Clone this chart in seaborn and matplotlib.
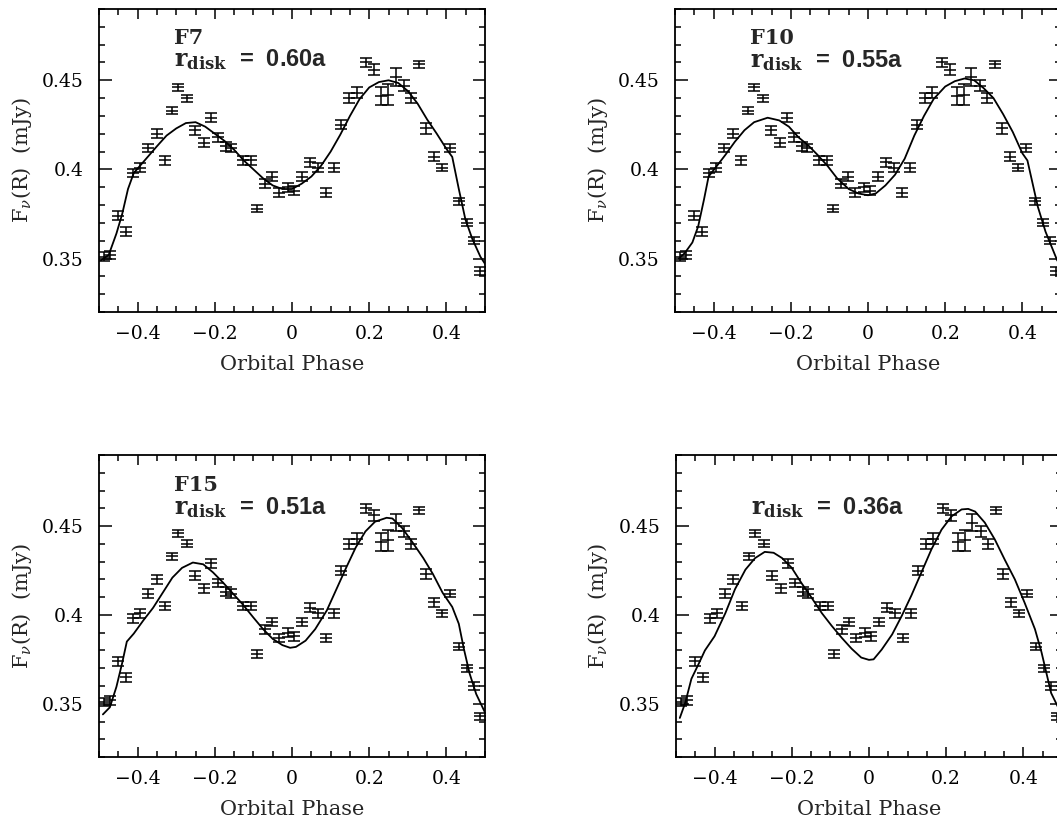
import numpy as np
import pandas as pd
import matplotlib
matplotlib.use("Agg")
import matplotlib.pyplot as plt
from matplotlib.ticker import MultipleLocator
import seaborn as sns

# observed light curve (same data in every panel)
phase = [-0.488, -0.472, -0.450, -0.430, -0.411, -0.394, -0.373, -0.351, -0.329, -0.310,
         -0.295, -0.271, -0.252, -0.228, -0.209, -0.191, -0.172, -0.158, -0.127, -0.107,
         -0.090, -0.071, -0.052, -0.033, -0.011, 0.006, 0.027, 0.047, 0.067, 0.089,
         0.109, 0.128, 0.147, 0.167, 0.191, 0.212, 0.230, 0.248, 0.268, 0.289,
         0.309, 0.329, 0.348, 0.368, 0.389, 0.410, 0.432, 0.454, 0.471, 0.488]
flux = [0.351, 0.352, 0.374, 0.365, 0.398, 0.401, 0.412, 0.420, 0.405, 0.433,
        0.446, 0.440, 0.422, 0.415, 0.429, 0.418, 0.413, 0.412, 0.405, 0.405,
        0.378, 0.392, 0.396, 0.387, 0.390, 0.388, 0.396, 0.404, 0.401, 0.387,
        0.401, 0.425, 0.440, 0.443, 0.460, 0.456, 0.441, 0.442, 0.452, 0.447,
        0.440, 0.459, 0.423, 0.407, 0.401, 0.412, 0.382, 0.370, 0.360, 0.343]
flux_err = [0.0025, 0.0025, 0.0025, 0.0025, 0.0025, 0.0025, 0.0025, 0.0025, 0.0025, 0.002,
            0.002, 0.002, 0.0025, 0.0025, 0.0025, 0.0025, 0.0025, 0.0025, 0.0025, 0.0025,
            0.002, 0.0025, 0.0025, 0.0025, 0.0025, 0.0025, 0.0025, 0.0025, 0.0025, 0.0025,
            0.0025, 0.0025, 0.003, 0.003, 0.0025, 0.003, 0.005, 0.006, 0.005, 0.003,
            0.003, 0.002, 0.003, 0.0025, 0.002, 0.002, 0.002, 0.002, 0.002, 0.002]

# model curves
f7_phase = [-0.495, -0.475, -0.455, -0.44, -0.425, -0.41, -0.39, -0.37, -0.35, -0.325,
            -0.3, -0.275, -0.25, -0.225, -0.2, -0.175, -0.15, -0.125, -0.1, -0.075,
            -0.05, -0.025, 0.0, 0.025, 0.05, 0.075, 0.1, 0.125, 0.15, 0.175,
            0.2, 0.225, 0.25, 0.275, 0.3, 0.325, 0.35, 0.375, 0.4, 0.415,
            0.432, 0.449, 0.467, 0.488, 0.5]
f7_flux = [0.349, 0.352, 0.364, 0.375, 0.389, 0.398, 0.403, 0.408, 0.413, 0.419,
           0.423, 0.426, 0.4265, 0.424, 0.420, 0.416, 0.411, 0.405, 0.400, 0.395,
           0.391, 0.389, 0.389, 0.392, 0.396, 0.402, 0.410, 0.4195, 0.430, 0.4395,
           0.446, 0.449, 0.450, 0.4485, 0.444, 0.437, 0.428, 0.420, 0.4115, 0.407,
           0.389, 0.372, 0.361, 0.351, 0.347]

f10_phase = [-0.49, -0.475, -0.455, -0.44, -0.425, -0.413, -0.395, -0.37, -0.345, -0.32,
             -0.295, -0.26, -0.23, -0.205, -0.18, -0.155, -0.13, -0.105, -0.08, -0.05,
             -0.025, 0.0, 0.02, 0.045, 0.07, 0.095, 0.12, 0.145, 0.17, 0.2,
             0.225, 0.25, 0.275, 0.3, 0.325, 0.35, 0.375, 0.4, 0.413, 0.44,
             0.46, 0.49, 0.5]
f10_flux = [0.350, 0.353, 0.359, 0.368, 0.383, 0.396, 0.401, 0.408, 0.4155, 0.422,
            0.4265, 0.429, 0.4275, 0.424, 0.418, 0.4135, 0.408, 0.402, 0.395, 0.389,
            0.3865, 0.3855, 0.3865, 0.391, 0.397, 0.406, 0.419, 0.430, 0.4395, 0.4465,
            0.4495, 0.451, 0.450, 0.4455, 0.440, 0.431, 0.421, 0.409, 0.405, 0.379,
            0.365, 0.349, 0.346]

f15_phase = [-0.49, -0.472, -0.455, -0.44, -0.428, -0.41, -0.385, -0.36, -0.335, -0.31,
             -0.285, -0.257, -0.23, -0.205, -0.18, -0.155, -0.128, -0.1, -0.075, -0.05,
             -0.025, -0.005, 0.01, 0.035, 0.06, 0.09, 0.115, 0.14, 0.165, 0.19,
             0.215, 0.245, 0.26, 0.285, 0.31, 0.34, 0.365, 0.39, 0.415, 0.432,
             0.445, 0.46, 0.477, 0.5]
f15_flux = [0.344, 0.348, 0.3595, 0.373, 0.385, 0.3895, 0.397, 0.404, 0.4125, 0.421,
            0.4265, 0.4295, 0.4285, 0.424, 0.4185, 0.4125, 0.406, 0.3985, 0.392, 0.3865,
            0.383, 0.3815, 0.382, 0.3855, 0.392, 0.4025, 0.4145, 0.4265, 0.438, 0.447,
            0.4525, 0.4547, 0.4543, 0.449, 0.4415, 0.432, 0.423, 0.4125, 0.4045, 0.395,
            0.381, 0.367, 0.3555, 0.345]

r36_phase = [-0.49, -0.476, -0.46, -0.44, -0.425, -0.4, -0.372, -0.347, -0.32, -0.295,
             -0.27, -0.247, -0.225, -0.2, -0.175, -0.148, -0.122, -0.097, -0.07, -0.045,
             -0.02, 0.0, 0.012, 0.033, 0.06, 0.085, 0.11, 0.136, 0.162, 0.188,
             0.214, 0.24, 0.257, 0.275, 0.3, 0.326, 0.352, 0.378, 0.403, 0.43,
             0.447, 0.46, 0.472, 0.49, 0.5]
r36_flux = [0.342, 0.3505, 0.364, 0.373, 0.380, 0.388, 0.401, 0.4145, 0.4255, 0.432,
            0.4355, 0.435, 0.432, 0.4265, 0.418, 0.4095, 0.401, 0.394, 0.387, 0.381,
            0.376, 0.3747, 0.375, 0.3805, 0.389, 0.3995, 0.411, 0.424, 0.437, 0.448,
            0.4555, 0.4594, 0.4597, 0.4582, 0.452, 0.4425, 0.431, 0.420, 0.407, 0.392,
            0.379, 0.367, 0.356, 0.348, 0.344]

panel_names = ["F7", "F10", "F15", ""]
disk_radii = ["0.60a", "0.55a", "0.51a", "0.36a"]
model_phases = [f7_phase, f10_phase, f15_phase, r36_phase]
model_fluxes = [f7_flux, f10_flux, f15_flux, r36_flux]

x_ticks = [-0.4, -0.2, 0, 0.2, 0.4]
x_tick_labels = ["\u22120.4", "\u22120.2", "0", "0.2", "0.4"]
y_ticks = [0.35, 0.40, 0.45]
y_tick_labels = ["0.35", "0.4", "0.45"]

sns.set_style("ticks")
plt.rcParams["font.family"] = ["DejaVu Serif"]
plt.rcParams["mathtext.fontset"] = "dejavuserif"

fig = plt.figure(figsize=(10.57, 8.17), dpi=100)
rects = [[0.0937, 0.6181, 0.3652, 0.3709],
         [0.6386, 0.6181, 0.3652, 0.3709],
         [0.0937, 0.0734, 0.3652, 0.3696],
         [0.6395, 0.0734, 0.3652, 0.3696]]
name_y = [0.4705, 0.4705, 0.4695, 0.4695]
radius_y = [0.4579, 0.4575, 0.4570, 0.4566]

for i in range(4):
    ax = fig.add_axes(rects[i])
    ax.errorbar(phase, flux, yerr=flux_err, fmt="_", color="black", ms=8, mew=1.1,
                elinewidth=1.1, capsize=4, capthick=1.1)
    sns.lineplot(x=model_phases[i], y=model_fluxes[i], ax=ax, color="black",
                 lw=1.3, sort=False, estimator=None)
    ax.set_xlim(-0.5, 0.5)
    ax.set_ylim(0.32, 0.49)
    ax.set_xticks(x_ticks)
    ax.set_xticklabels(x_tick_labels)
    ax.set_yticks(y_ticks)
    ax.set_yticklabels(y_tick_labels)
    ax.xaxis.set_minor_locator(MultipleLocator(0.05))
    ax.yaxis.set_minor_locator(MultipleLocator(0.01))
    ax.tick_params(which="both", direction="in", top=True, right=True,
                   width=1.1, labelsize=13.5, colors="black")
    ax.tick_params(axis="x", which="major", length=7.5, pad=9)
    ax.tick_params(axis="y", which="major", length=9, pad=11)
    ax.tick_params(which="minor", length=4)
    for sp in ax.spines.values():
        sp.set_linewidth(1.3)
        sp.set_color("black")
    ax.set_xlabel("Orbital Phase", fontsize=15, labelpad=9)
    ax.set_ylabel(r"F$_\nu$(R)  (mJy)", fontsize=15, labelpad=6)
    if panel_names[i]:
        ax.text(-0.305, name_y[i], panel_names[i], fontsize=15, fontweight="bold",
                family="DejaVu Serif", ha="left", va="baseline")
    ax.text(-0.305, radius_y[i], r"$\mathbf{r}_{\mathbf{disk}}$  =  " + disk_radii[i],
            fontsize=17, fontweight="bold", family="Liberation Sans",
            ha="left", va="baseline")

fig.savefig("out.png", dpi=100)
